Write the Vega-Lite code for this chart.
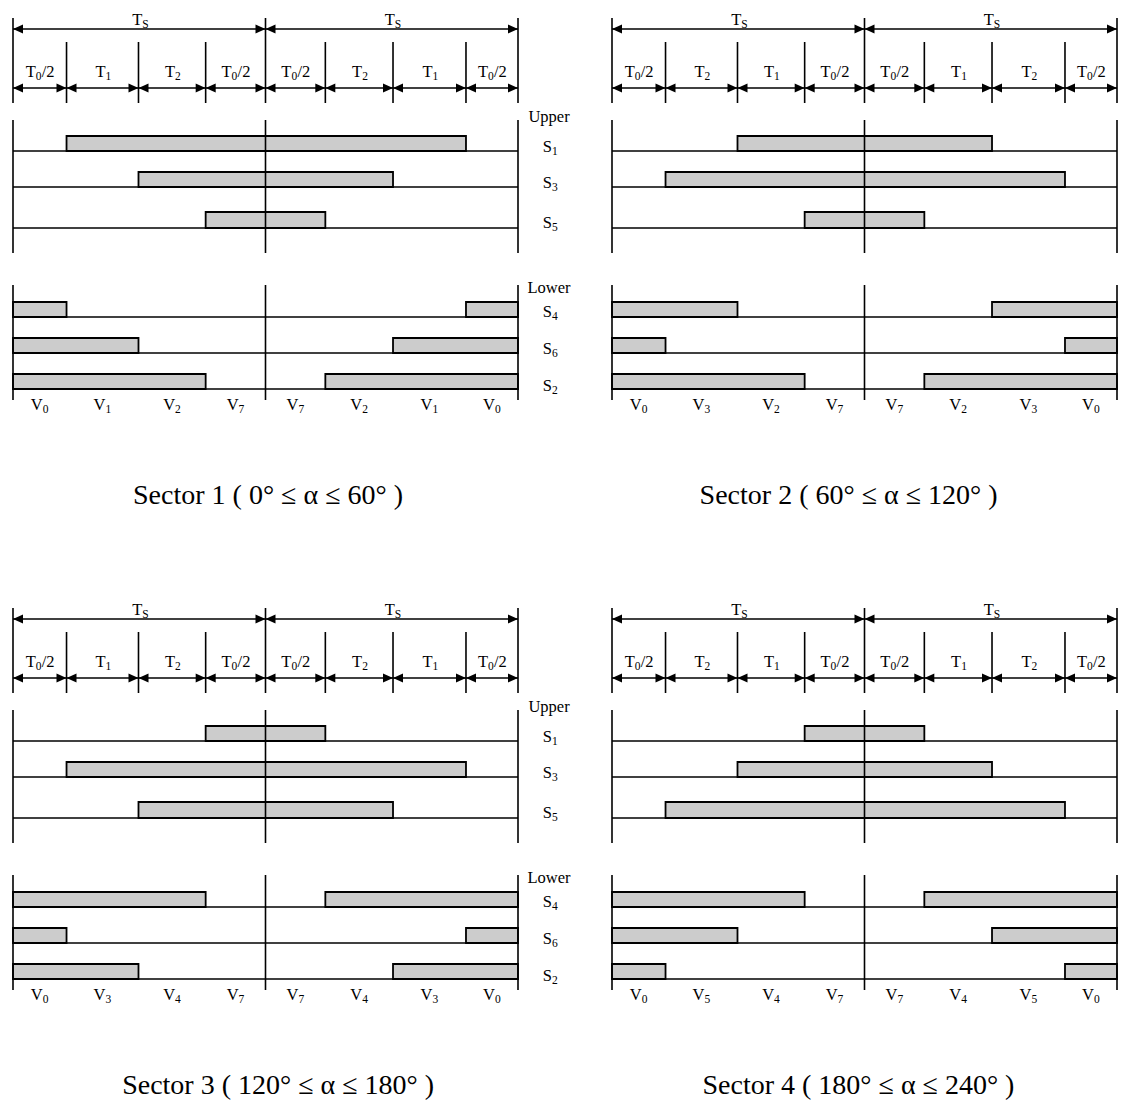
{
  "$schema": "https://vega.github.io/schema/vega-lite/v6.json",
  "background": "white",
  "padding": {"left": 12, "top": 0, "right": 0, "bottom": 0},
  "bounds": "flush",
  "config": {
    "view": {"stroke": null},
    "font": "Liberation Serif",
    "header": {"labels": false, "title": null, "labelFontSize": 0, "labelPadding": 0, "titlePadding": 0, "labelColor": "transparent", "labelExpr": "''"},
    "headerFacet": {"labels": false, "title": null, "labelFontSize": 0, "labelPadding": 0, "titlePadding": 0, "labelColor": "transparent", "labelExpr": "''"},
    "headerColumn": {"labels": false, "title": null, "labelFontSize": 0, "labelPadding": 0, "titlePadding": 0, "labelColor": "transparent", "labelExpr": "''"}
  },
  "data": {"values": [
    {"k":"v","sec":["1","2","3","4"],"x":0,"y":18,"y2":103},
    {"k":"v","sec":["1","2","3","4"],"x":100,"y":18,"y2":103},
    {"k":"v","sec":["1","2","3","4"],"x":200,"y":18,"y2":103},
    {"k":"v","sec":["1","2","3","4"],"x":21.2,"y":42,"y2":103},
    {"k":"v","sec":["1","2","3","4"],"x":49.7,"y":42,"y2":103},
    {"k":"v","sec":["1","2","3","4"],"x":76.3,"y":42,"y2":103},
    {"k":"v","sec":["1","2","3","4"],"x":123.7,"y":42,"y2":103},
    {"k":"v","sec":["1","2","3","4"],"x":150.5,"y":42,"y2":103},
    {"k":"v","sec":["1","2","3","4"],"x":179.4,"y":42,"y2":103},
    {"k":"v","sec":["1","2","3","4"],"x":0,"y":120,"y2":253},
    {"k":"v","sec":["1","2","3","4"],"x":100,"y":120,"y2":253},
    {"k":"v","sec":["1","2","3","4"],"x":200,"y":120,"y2":253},
    {"k":"v","sec":["1","2","3","4"],"x":0,"y":285,"y2":400},
    {"k":"v","sec":["1","2","3","4"],"x":100,"y":285,"y2":400},
    {"k":"v","sec":["1","2","3","4"],"x":200,"y":285,"y2":400},
    {"k":"h","sec":["1","2","3","4"],"x":0,"x2":200,"y":151},
    {"k":"h","sec":["1","2","3","4"],"x":0,"x2":200,"y":187},
    {"k":"h","sec":["1","2","3","4"],"x":0,"x2":200,"y":228},
    {"k":"h","sec":["1","2","3","4"],"x":0,"x2":200,"y":317},
    {"k":"h","sec":["1","2","3","4"],"x":0,"x2":200,"y":353},
    {"k":"h","sec":["1","2","3","4"],"x":0,"x2":200,"y":389},
    {"k":"a","sec":["1","2","3","4"],"x":0,"x2":100,"y":29},
    {"k":"a","sec":["1","2","3","4"],"x":100,"x2":200,"y":29},
    {"k":"a","sec":["1","2","3","4"],"x":0,"x2":21.2,"y":88},
    {"k":"a","sec":["1","2","3","4"],"x":21.2,"x2":49.7,"y":88},
    {"k":"a","sec":["1","2","3","4"],"x":49.7,"x2":76.3,"y":88},
    {"k":"a","sec":["1","2","3","4"],"x":76.3,"x2":100,"y":88},
    {"k":"a","sec":["1","2","3","4"],"x":100,"x2":123.7,"y":88},
    {"k":"a","sec":["1","2","3","4"],"x":123.7,"x2":150.5,"y":88},
    {"k":"a","sec":["1","2","3","4"],"x":150.5,"x2":179.4,"y":88},
    {"k":"a","sec":["1","2","3","4"],"x":179.4,"x2":200,"y":88},
    {"k":"s","sec":["1","2","3","4"],"x":50,"y":25,"txt":"T","sub":"S"},
    {"k":"s","sec":["1","2","3","4"],"x":150,"y":25,"txt":"T","sub":"S"},
    {"k":"q","sec":["1","2","3","4"],"x":10.6,"y":77,"txt":"T","sub":"0","tail":"/2"},
    {"k":"q","sec":["1","2","3","4"],"x":88.15,"y":77,"txt":"T","sub":"0","tail":"/2"},
    {"k":"q","sec":["1","2","3","4"],"x":111.85,"y":77,"txt":"T","sub":"0","tail":"/2"},
    {"k":"q","sec":["1","2","3","4"],"x":189.7,"y":77,"txt":"T","sub":"0","tail":"/2"},
    {"k":"s","sec":["1","3"],"x":35.45,"y":77,"txt":"T","sub":"1"},
    {"k":"s","sec":["1","3"],"x":63,"y":77,"txt":"T","sub":"2"},
    {"k":"s","sec":["1","3"],"x":137.1,"y":77,"txt":"T","sub":"2"},
    {"k":"s","sec":["1","3"],"x":164.95,"y":77,"txt":"T","sub":"1"},
    {"k":"s","sec":["2","4"],"x":35.45,"y":77,"txt":"T","sub":"2"},
    {"k":"s","sec":["2","4"],"x":63,"y":77,"txt":"T","sub":"1"},
    {"k":"s","sec":["2","4"],"x":137.1,"y":77,"txt":"T","sub":"1"},
    {"k":"s","sec":["2","4"],"x":164.95,"y":77,"txt":"T","sub":"2"},
    {"k":"s","sec":["1","2","3","4"],"x":10.6,"y":410,"txt":"V","sub":"0"},
    {"k":"s","sec":["1","2","3","4"],"x":88.15,"y":410,"txt":"V","sub":"7"},
    {"k":"s","sec":["1","2","3","4"],"x":111.85,"y":410,"txt":"V","sub":"7"},
    {"k":"s","sec":["1","2","3","4"],"x":189.7,"y":410,"txt":"V","sub":"0"},
    {"k":"s","sec":["1"],"x":35.45,"y":410,"txt":"V","sub":"1"},
    {"k":"s","sec":["1"],"x":63,"y":410,"txt":"V","sub":"2"},
    {"k":"s","sec":["1"],"x":137.1,"y":410,"txt":"V","sub":"2"},
    {"k":"s","sec":["1"],"x":164.95,"y":410,"txt":"V","sub":"1"},
    {"k":"s","sec":["2"],"x":35.45,"y":410,"txt":"V","sub":"3"},
    {"k":"s","sec":["2"],"x":63,"y":410,"txt":"V","sub":"2"},
    {"k":"s","sec":["2"],"x":137.1,"y":410,"txt":"V","sub":"2"},
    {"k":"s","sec":["2"],"x":164.95,"y":410,"txt":"V","sub":"3"},
    {"k":"s","sec":["3"],"x":35.45,"y":410,"txt":"V","sub":"3"},
    {"k":"s","sec":["3"],"x":63,"y":410,"txt":"V","sub":"4"},
    {"k":"s","sec":["3"],"x":137.1,"y":410,"txt":"V","sub":"4"},
    {"k":"s","sec":["3"],"x":164.95,"y":410,"txt":"V","sub":"3"},
    {"k":"s","sec":["4"],"x":35.45,"y":410,"txt":"V","sub":"5"},
    {"k":"s","sec":["4"],"x":63,"y":410,"txt":"V","sub":"4"},
    {"k":"s","sec":["4"],"x":137.1,"y":410,"txt":"V","sub":"4"},
    {"k":"s","sec":["4"],"x":164.95,"y":410,"txt":"V","sub":"5"},
    {"k":"t","sec":["1","3"],"x":212.3,"y":121.5,"txt":"Upper"},
    {"k":"s","sec":["1","3"],"x":212.3,"y":152,"txt":"S","sub":"1"},
    {"k":"s","sec":["1","3"],"x":212.3,"y":188,"txt":"S","sub":"3"},
    {"k":"s","sec":["1","3"],"x":212.3,"y":228,"txt":"S","sub":"5"},
    {"k":"t","sec":["1","3"],"x":212.3,"y":293,"txt":"Lower"},
    {"k":"s","sec":["1","3"],"x":212.3,"y":317,"txt":"S","sub":"4"},
    {"k":"s","sec":["1","3"],"x":212.3,"y":354,"txt":"S","sub":"6"},
    {"k":"s","sec":["1","3"],"x":212.3,"y":391,"txt":"S","sub":"2"},
    {"k":"title","sec":["1"],"x":101,"y":504,"txt":"Sector 1 ( 0° ≤ α ≤ 60° )"},
    {"k":"title","sec":["2"],"x":93.7,"y":504,"txt":"Sector 2 ( 60° ≤ α ≤ 120° )"},
    {"k":"title","sec":["3"],"x":105,"y":504,"txt":"Sector 3 ( 120° ≤ α ≤ 180° )"},
    {"k":"title","sec":["4"],"x":97.6,"y":504,"txt":"Sector 4 ( 180° ≤ α ≤ 240° )"},

    {"k":"b","sec":["1"],"x":21.2,"x2":179.4,"y":136,"y2":151},
    {"k":"b","sec":["1"],"x":49.7,"x2":150.5,"y":172,"y2":187},
    {"k":"b","sec":["1"],"x":76.3,"x2":123.7,"y":212,"y2":228},
    {"k":"b","sec":["1"],"x":0,"x2":21.2,"y":302,"y2":317},
    {"k":"b","sec":["1"],"x":179.4,"x2":200,"y":302,"y2":317},
    {"k":"b","sec":["1"],"x":0,"x2":49.7,"y":338,"y2":353},
    {"k":"b","sec":["1"],"x":150.5,"x2":200,"y":338,"y2":353},
    {"k":"b","sec":["1"],"x":0,"x2":76.3,"y":374,"y2":389},
    {"k":"b","sec":["1"],"x":123.7,"x2":200,"y":374,"y2":389},

    {"k":"b","sec":["2"],"x":49.7,"x2":150.5,"y":136,"y2":151},
    {"k":"b","sec":["2"],"x":21.2,"x2":179.4,"y":172,"y2":187},
    {"k":"b","sec":["2"],"x":76.3,"x2":123.7,"y":212,"y2":228},
    {"k":"b","sec":["2"],"x":0,"x2":49.7,"y":302,"y2":317},
    {"k":"b","sec":["2"],"x":150.5,"x2":200,"y":302,"y2":317},
    {"k":"b","sec":["2"],"x":0,"x2":21.2,"y":338,"y2":353},
    {"k":"b","sec":["2"],"x":179.4,"x2":200,"y":338,"y2":353},
    {"k":"b","sec":["2"],"x":0,"x2":76.3,"y":374,"y2":389},
    {"k":"b","sec":["2"],"x":123.7,"x2":200,"y":374,"y2":389},

    {"k":"b","sec":["3"],"x":76.3,"x2":123.7,"y":136,"y2":151},
    {"k":"b","sec":["3"],"x":21.2,"x2":179.4,"y":172,"y2":187},
    {"k":"b","sec":["3"],"x":49.7,"x2":150.5,"y":212,"y2":228},
    {"k":"b","sec":["3"],"x":0,"x2":76.3,"y":302,"y2":317},
    {"k":"b","sec":["3"],"x":123.7,"x2":200,"y":302,"y2":317},
    {"k":"b","sec":["3"],"x":0,"x2":21.2,"y":338,"y2":353},
    {"k":"b","sec":["3"],"x":179.4,"x2":200,"y":338,"y2":353},
    {"k":"b","sec":["3"],"x":0,"x2":49.7,"y":374,"y2":389},
    {"k":"b","sec":["3"],"x":150.5,"x2":200,"y":374,"y2":389},

    {"k":"b","sec":["4"],"x":76.3,"x2":123.7,"y":136,"y2":151},
    {"k":"b","sec":["4"],"x":49.7,"x2":150.5,"y":172,"y2":187},
    {"k":"b","sec":["4"],"x":21.2,"x2":179.4,"y":212,"y2":228},
    {"k":"b","sec":["4"],"x":0,"x2":76.3,"y":302,"y2":317},
    {"k":"b","sec":["4"],"x":123.7,"x2":200,"y":302,"y2":317},
    {"k":"b","sec":["4"],"x":0,"x2":49.7,"y":338,"y2":353},
    {"k":"b","sec":["4"],"x":150.5,"x2":200,"y":338,"y2":353},
    {"k":"b","sec":["4"],"x":0,"x2":21.2,"y":374,"y2":389},
    {"k":"b","sec":["4"],"x":179.4,"x2":200,"y":374,"y2":389}
  ]},
  "transform": [{"flatten": ["sec"]}],
  "facet": {"field": "sec", "type": "ordinal", "title": null, "header": {"labels": false, "title": null, "labelFontSize": 0, "labelPadding": 0, "titlePadding": 0, "labelColor": "transparent", "labelExpr": "''"}},
  "columns": 2,
  "spacing": {"row": 70, "column": 94},
  "spec": {
    "width": 505,
    "height": 520,
    "encoding": {
      "x": {"field": "x", "type": "quantitative", "scale": {"domain": [0, 200], "nice": false, "zero": false}, "axis": null},
      "y": {"field": "y", "type": "quantitative", "scale": {"domain": [0, 520], "nice": false, "zero": false, "reverse": true}, "axis": null}
    },
    "layer": [
      {"transform": [{"filter": "datum.k==='b'"}], "mark": {"type": "rect", "fill": "#cccccc", "stroke": "black", "strokeWidth": 1.8}, "encoding": {"x2": {"field": "x2"}, "y2": {"field": "y2"}}},
      {"transform": [{"filter": "datum.k==='v'"}], "mark": {"type": "rule", "color": "black", "strokeWidth": 1.6}, "encoding": {"y2": {"field": "y2"}}},
      {"transform": [{"filter": "datum.k==='h'"}], "mark": {"type": "rule", "color": "black", "strokeWidth": 1.6}, "encoding": {"x2": {"field": "x2"}}},
      {"transform": [{"filter": "datum.k==='a'"}], "mark": {"type": "rule", "color": "black", "strokeWidth": 1.6}, "encoding": {"x2": {"field": "x2"}}},
      {"transform": [{"filter": "datum.k==='a'"}], "mark": {"type": "point", "shape": "M0,0L2,-0.9L2,0.9Z", "filled": true, "color": "black", "opacity": 1, "size": 100, "strokeWidth": 0}},
      {"transform": [{"filter": "datum.k==='a'"}], "mark": {"type": "point", "shape": "M0,0L-2,-0.9L-2,0.9Z", "filled": true, "color": "black", "opacity": 1, "size": 100, "strokeWidth": 0},
       "encoding": {"x": {"field": "x2", "type": "quantitative", "scale": {"domain": [0, 200], "nice": false, "zero": false}, "axis": null}}},
      {"transform": [{"filter": "datum.k==='t'"}], "mark": {"type": "text", "font": "Liberation Serif", "fontSize": 16.5, "baseline": "alphabetic", "align": "center", "color": "black"}, "encoding": {"text": {"field": "txt"}}},
      {"transform": [{"filter": "datum.k==='s'"}], "mark": {"type": "text", "font": "Liberation Serif", "fontSize": 16.5, "baseline": "alphabetic", "align": "right", "dx": 3, "color": "black"}, "encoding": {"text": {"field": "txt"}}},
      {"transform": [{"filter": "datum.k==='s'"}], "mark": {"type": "text", "font": "Liberation Serif", "fontSize": 11.5, "baseline": "alphabetic", "align": "left", "dx": 3, "dy": 3, "color": "black"}, "encoding": {"text": {"field": "sub"}}},
      {"transform": [{"filter": "datum.k==='q'"}], "mark": {"type": "text", "font": "Liberation Serif", "fontSize": 16.5, "baseline": "alphabetic", "align": "right", "dx": -4, "color": "black"}, "encoding": {"text": {"field": "txt"}}},
      {"transform": [{"filter": "datum.k==='q'"}], "mark": {"type": "text", "font": "Liberation Serif", "fontSize": 11.5, "baseline": "alphabetic", "align": "left", "dx": -4, "dy": 3, "color": "black"}, "encoding": {"text": {"field": "sub"}}},
      {"transform": [{"filter": "datum.k==='q'"}], "mark": {"type": "text", "font": "Liberation Serif", "fontSize": 16.5, "baseline": "alphabetic", "align": "left", "dx": 2, "color": "black"}, "encoding": {"text": {"field": "tail"}}},
      {"transform": [{"filter": "datum.k==='title'"}], "mark": {"type": "text", "font": "Liberation Serif", "fontSize": 28, "baseline": "alphabetic", "align": "center", "color": "black"}, "encoding": {"text": {"field": "txt"}}}
    ]
  }
}
